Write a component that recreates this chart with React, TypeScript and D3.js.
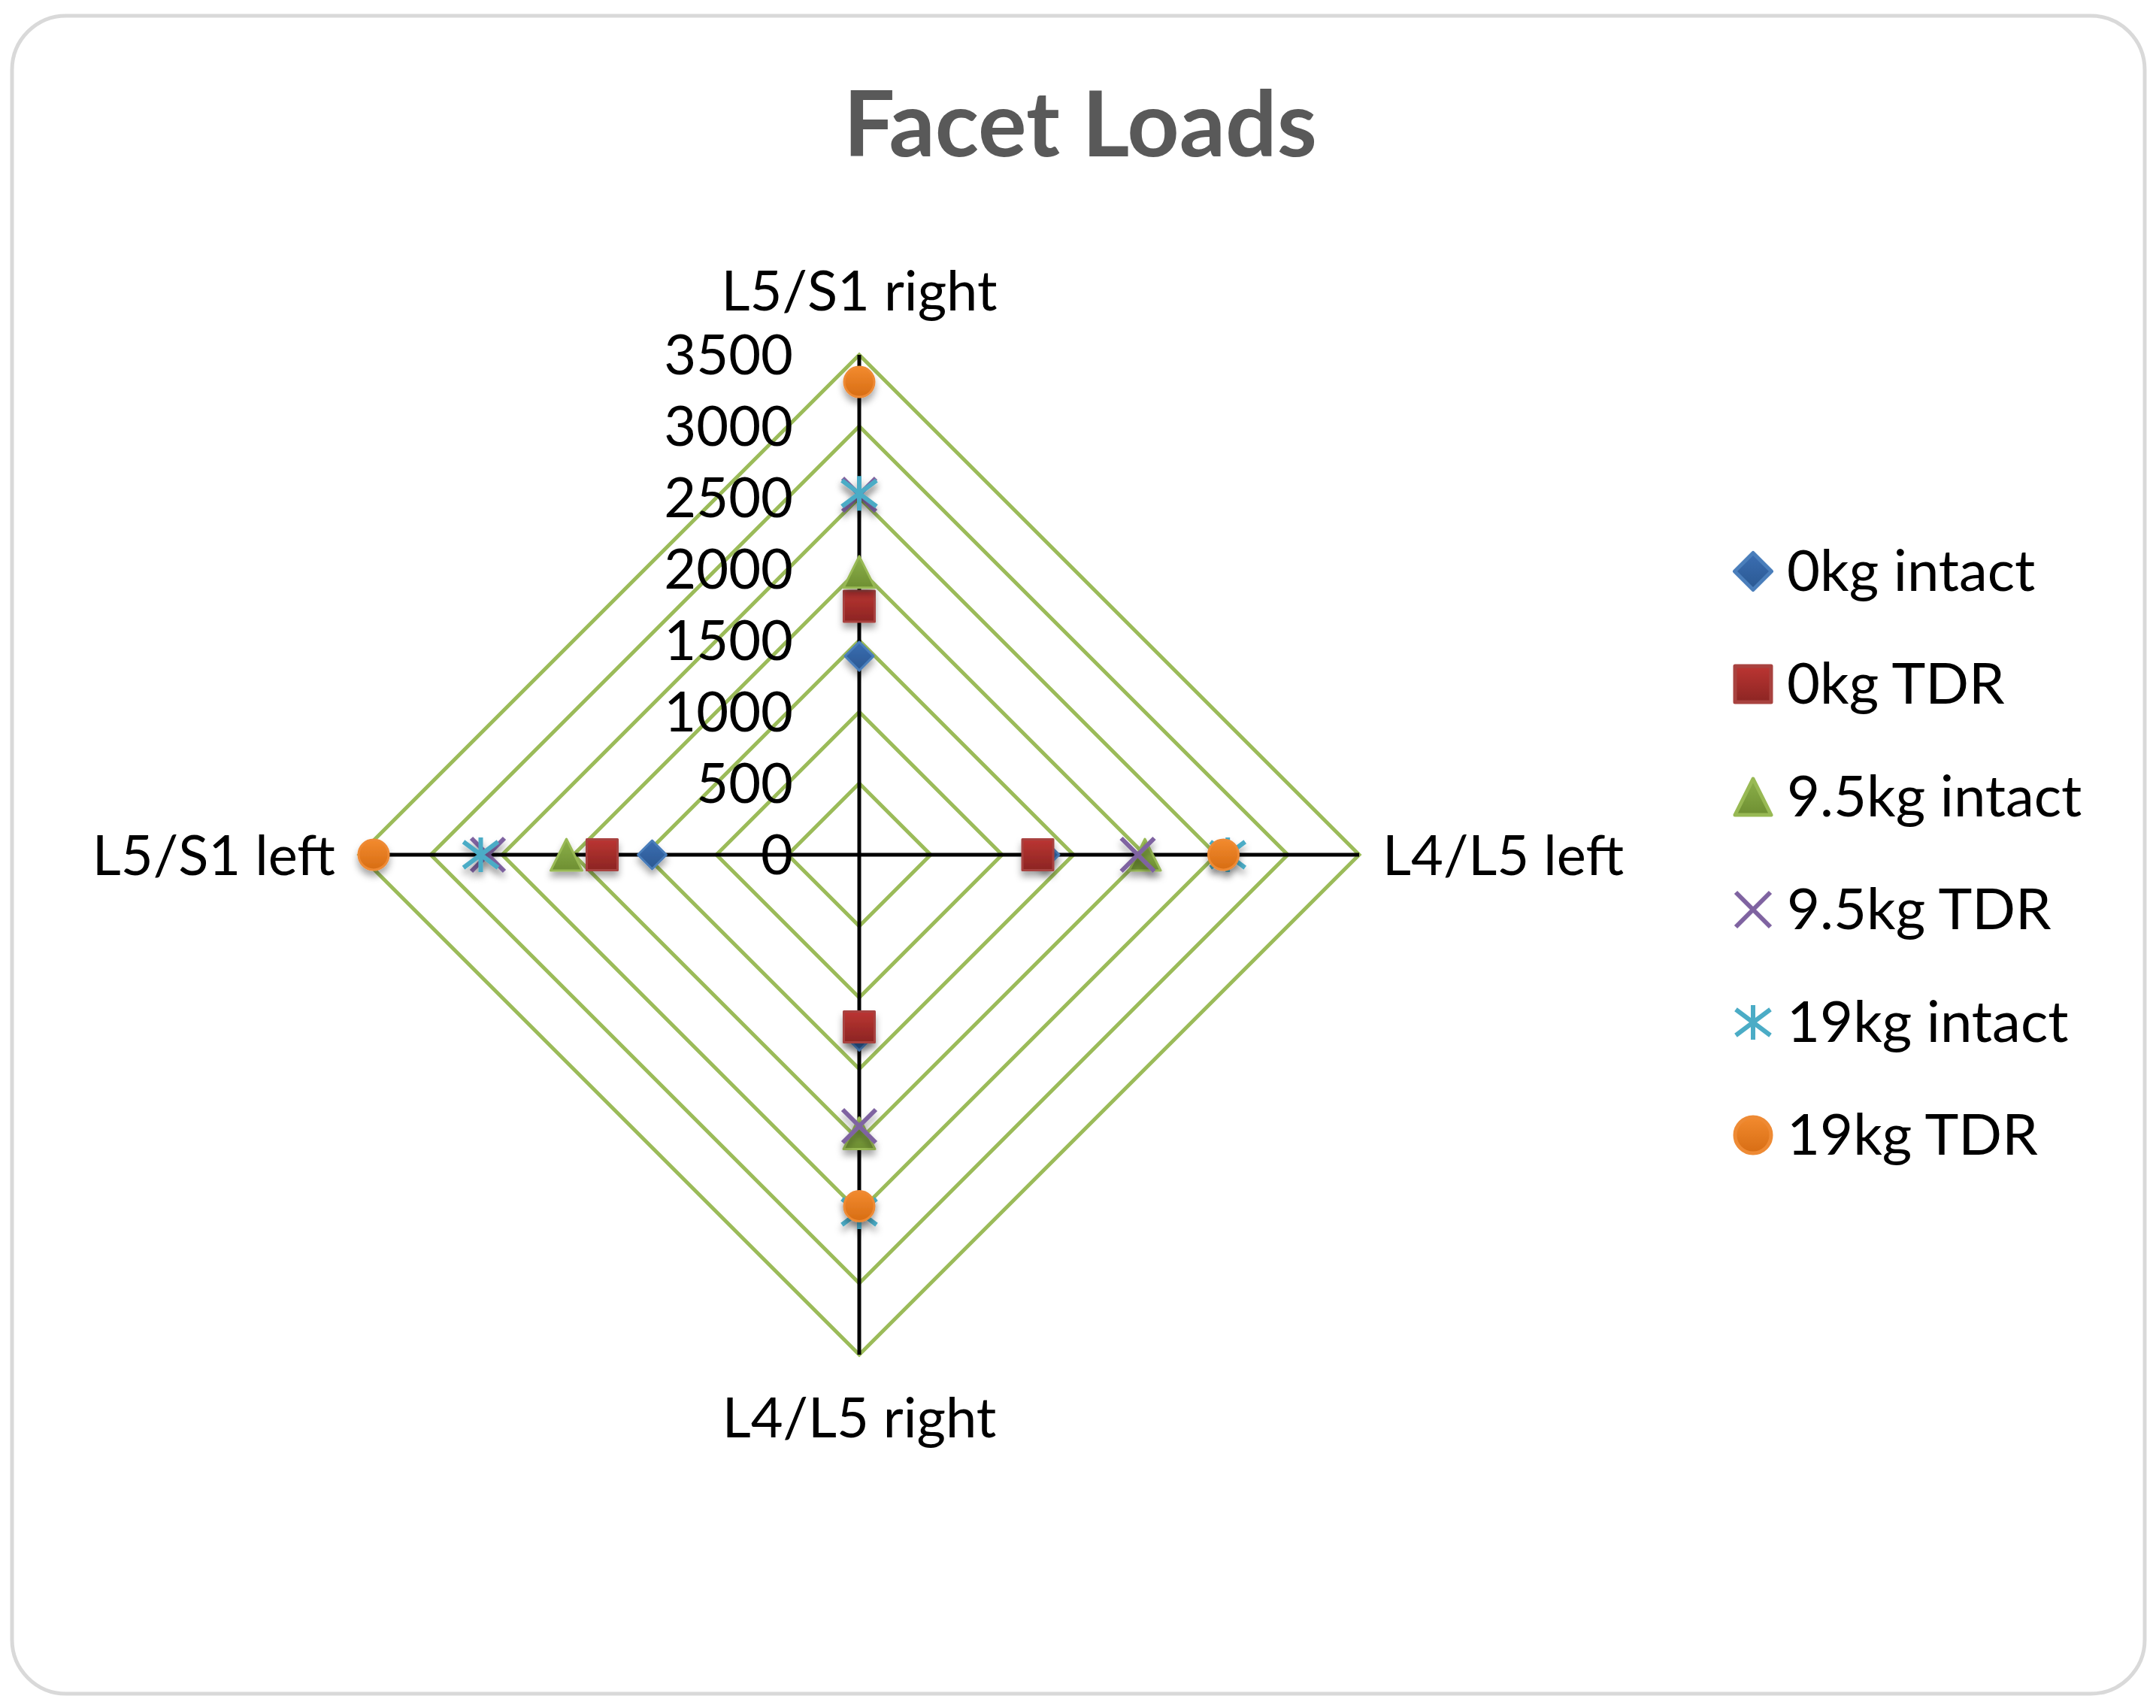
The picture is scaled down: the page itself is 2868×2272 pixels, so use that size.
import React from "react";
import * as d3 from "d3";

const categories = ["L5/S1 right", "L4/L5 left", "L4/L5 right", "L5/S1 left"];
const seriesNames = ["0kg intact", "0kg TDR", "9.5kg intact", "9.5kg TDR", "19kg intact", "19kg TDR"];
const kg0Intact = [1390, 1300, 1270, 1450];
const kg0Tdr = [1740, 1250, 1205, 1800];
const kg95Intact = [1980, 2000, 1950, 2050];
const kg95Tdr = [2520, 1950, 1900, 2600];
const kg19Intact = [2530, 2580, 2500, 2650];
const kg19Tdr = [3310, 2550, 2460, 3400];
const tickValues = [0, 500, 1000, 1500, 2000, 2500, 3000, 3500];

const W = 2868;
const H = 2272;
const cx = 1143;
const cy = 1137;
const R = 665;
const FONT = "Lato, 'Open Sans', sans-serif";

// marker look for each series, same order as seriesNames
const styles = [
  { type: "diamond", stroke: "#4a7ebb", top: "#3b6eb2", bottom: "#2a5892" },
  { type: "square", stroke: "#a8423f", top: "#bb3532", bottom: "#8c2523" },
  { type: "triangle", stroke: "#98b954", top: "#8cb04a", bottom: "#6e8f32" },
  { type: "x", stroke: "#7f63a1" },
  { type: "star", stroke: "#4bacc6" },
  { type: "circle", stroke: "#ee8a34", top: "#f28a2e", bottom: "#d76d14" },
];

function markerPath(type: string, s: number) {
  const h = s / 2;
  const p = d3.path();
  if (type === "diamond") {
    p.moveTo(0, -h); p.lineTo(h, 0); p.lineTo(0, h); p.lineTo(-h, 0); p.closePath();
  } else if (type === "square") {
    p.rect(-h, -h, s, s);
  } else if (type === "triangle") {
    p.moveTo(0, -h); p.lineTo(h, h); p.lineTo(-h, h); p.closePath();
  } else if (type === "x") {
    p.moveTo(-h, -h); p.lineTo(h, h); p.moveTo(h, -h); p.lineTo(-h, h);
  } else if (type === "star") {
    p.moveTo(-h, -h * 0.75); p.lineTo(h, h * 0.75); p.moveTo(h, -h * 0.75); p.lineTo(-h, h * 0.75);
    p.moveTo(0, -h); p.lineTo(0, h);
  } else {
    p.arc(0, 0, h, 0, Math.PI * 2);
  }
  return p.toString();
}

function Marker({ i, size, sw, shadow }: { i: number; size: number; sw: number; shadow?: boolean }) {
  const st = styles[i];
  const line = st.type === "x" || st.type === "star";
  return (
    <path
      d={markerPath(st.type, size)}
      fill={line ? "none" : `url(#grad${i})`}
      stroke={st.stroke}
      strokeWidth={line ? 6 : sw}
      strokeLinejoin="round"
      filter={shadow ? "url(#shadow)" : undefined}
    />
  );
}

export default function App() {
  const data = [kg0Intact, kg0Tdr, kg95Intact, kg95Tdr, kg19Intact, kg19Tdr];
  const r = d3.scaleLinear().domain([0, 3500]).range([0, R]);
  const angle = (k: number) => (k * 2 * Math.PI) / categories.length;

  const grid = d3
    .lineRadial<number>()
    .angle((_, k) => angle(k))
    .radius((d) => r(d))
    .curve(d3.curveLinearClosed);

  const sizes = [38, 41, 42, 44, 46, 40];
  const legendSizes = [49, 48, 48, 46, 46, 48];

  const labelPos = [
    { x: cx, y: cy - R - 59, anchor: "middle" },
    { x: cx + R + 31, y: cy + 27, anchor: "start" },
    { x: cx, y: cy + R + 110, anchor: "middle" },
    { x: cx - R - 32, y: cy + 27, anchor: "end" },
  ];

  return (
    <svg width={W} height={H} style={{ position: "absolute", left: 0, top: 0, background: "#fff" }}>
      <defs>
        {styles.map((st, i) =>
          st.top ? (
            <linearGradient key={i} id={`grad${i}`} x1="0" y1="0" x2="0" y2="1">
              <stop offset="0" stopColor={st.top} />
              <stop offset="1" stopColor={st.bottom} />
            </linearGradient>
          ) : null
        )}
        <filter id="shadow" x="-60%" y="-60%" width="220%" height="240%">
          <feDropShadow dx="0" dy="7" stdDeviation="5" floodColor="#000" floodOpacity="0.35" />
        </filter>
      </defs>

      <rect x={16} y={21} width={2837} height={2232} rx={72} ry={72} fill="#fff" stroke="#d9d9d9" strokeWidth={5} />

      <text x={1437} y={208} textAnchor="middle" fontFamily={FONT} fontWeight="bold" fontSize={121} fill="#595959">
        Facet Loads
      </text>

      {/* grid */}
      {tickValues.slice(1).map((t) => (
        <path key={t} d={grid(categories.map(() => t)) || ""} transform={`translate(${cx},${cy})`} fill="none" stroke="#9bbb59" strokeWidth={5} />
      ))}

      {/* spokes */}
      {categories.map((c, k) => {
        const [x, y] = d3.pointRadial(angle(k), R);
        return <line key={c} x1={cx} y1={cy} x2={cx + x} y2={cy + y} stroke="#000" strokeWidth={5} />;
      })}

      {/* value ticks */}
      {tickValues.map((t) => (
        <text key={t} x={cx - 88} y={cy - r(t) + 26} textAnchor="end" fontFamily={FONT} fontSize={74} fill="#000">
          {t}
        </text>
      ))}

      {/* category labels */}
      {categories.map((c, k) => (
        <text key={c} x={labelPos[k].x} y={labelPos[k].y} textAnchor={labelPos[k].anchor as any} fontFamily={FONT} fontSize={74} fill="#000">
          {c}
        </text>
      ))}

      {/* markers */}
      {data.map((vals, i) =>
        vals.map((v, k) => {
          const [x, y] = d3.pointRadial(angle(k), r(v));
          return (
            <g key={`${i}-${k}`} transform={`translate(${cx + x},${cy + y})`}>
              <Marker i={i} size={sizes[i]} sw={3} shadow />
            </g>
          );
        })
      )}

      {/* legend */}
      {seriesNames.map((name, i) => {
        const y = 760 + i * 150;
        return (
          <g key={name}>
            <g transform={`translate(2332,${y})`}>
              <Marker i={i} size={legendSizes[i]} sw={5} />
            </g>
            <text x={2377} y={y + 26} fontFamily={FONT} fontSize={76} fill="#000">
              {name}
            </text>
          </g>
        );
      })}
    </svg>
  );
}
